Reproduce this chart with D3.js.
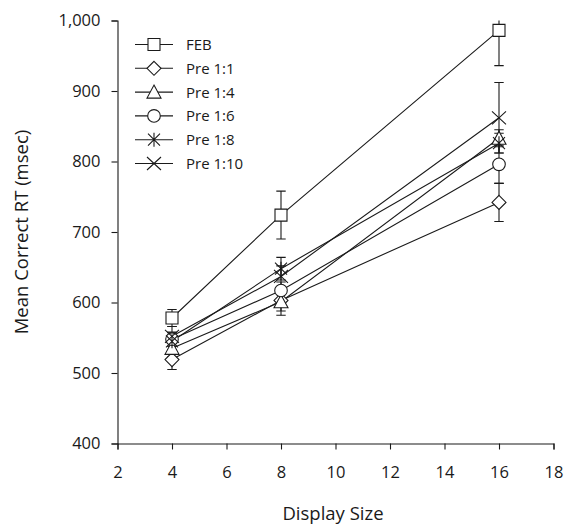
<!DOCTYPE html>
<html>
<head>
<meta charset="utf-8">
<script src="https://cdn.jsdelivr.net/npm/d3@7"></script>
<style>
  html, body { margin: 0; padding: 0; background: #fff; }
  svg { display: block; }
  text { font-family: "Open Sans", "Noto Sans", sans-serif; fill: #1a1a1a; }
</style>
</head>
<body>
<svg id="chart" width="572" height="524"></svg>
<script>
// Mean correct RT by display size, one series per condition
const displaySizes = [4, 8, 16];
const seriesNames = ["FEB", "Pre 1:1", "Pre 1:4", "Pre 1:6", "Pre 1:8", "Pre 1:10"];
const seriesShapes = ["square", "diamond", "triangle", "circle", "asterisk", "cross"];

const febRT    = [578, 724, 986];
const pre1_1RT = [519, 603, 742];
const pre1_4RT = [535, 601, 833];
const pre1_6RT = [548, 617, 796];
const pre1_8RT = [545, 648, 826];
const pre1_10RT = [552, 637, 862];

// standard errors (+/-)
const febErr    = [12, 34, 50];
const pre1_1Err = [14, 15, 27];
const pre1_4Err = [12, 19, 12];
const pre1_6Err = [10, 12, 27];
const pre1_8Err = [12, 16, 14];
const pre1_10Err = [14, 15, 50];

const xTicks = [2, 4, 6, 8, 10, 12, 14, 16, 18];
const yTicks = [400, 500, 600, 700, 800, 900, 1000];

const rtValues = [febRT, pre1_1RT, pre1_4RT, pre1_6RT, pre1_8RT, pre1_10RT];
const rtErrors = [febErr, pre1_1Err, pre1_4Err, pre1_6Err, pre1_8Err, pre1_10Err];

const series = seriesNames.map((name, i) => ({
  name,
  shape: seriesShapes[i],
  points: displaySizes.map((s, j) => ({ x: s, y: rtValues[i][j], e: rtErrors[i][j] }))
}));

const svg = d3.select("#chart");
const x = d3.scaleLinear().domain([2, 18]).range([117.5, 553.5]);
const y = d3.scaleLinear().domain([400, 1000]).range([443.5, 20.5]);

// marker outlines, centred on the origin
function shapePath(shape) {
  const p = d3.path();
  if (shape === "square") {
    p.rect(-6, -6, 12, 12);
  } else if (shape === "diamond") {
    p.moveTo(0, -7); p.lineTo(7, 0); p.lineTo(0, 7); p.lineTo(-7, 0); p.closePath();
  } else if (shape === "triangle") {
    p.moveTo(0, -7); p.lineTo(7, 6); p.lineTo(-7, 6); p.closePath();
  } else if (shape === "circle") {
    p.arc(0, 0, 6.3, 0, 2 * Math.PI);
  } else if (shape === "asterisk") {
    p.moveTo(-6, -6); p.lineTo(6, 6);
    p.moveTo(6, -6); p.lineTo(-6, 6);
    p.moveTo(0, -7); p.lineTo(0, 7);
  } else if (shape === "cross") {
    p.moveTo(-7, -6.5); p.lineTo(7, 6.5);
    p.moveTo(7, -6.5); p.lineTo(-7, 6.5);
  }
  return p.toString();
}

function drawMarker(g, shape) {
  g.append("path")
    .attr("d", shapePath(shape))
    .attr("fill", shape === "asterisk" || shape === "cross" ? "none" : "#fff")
    .attr("stroke", "#1a1a1a")
    .attr("stroke-width", 1.1);
}

// axes
const yAxis = d3.axisLeft(y).tickValues(yTicks).tickSize(6).tickPadding(11)
  .tickFormat(d3.format(","));
const xAxis = d3.axisBottom(x).tickValues(xTicks).tickSize(6).tickPadding(17)
  .tickFormat(d3.format("d"));

const gy = svg.append("g").attr("transform", `translate(${x(2)},0)`).call(yAxis);
const gx = svg.append("g").attr("transform", `translate(0,${y(400)})`).call(xAxis);
[gy, gx].forEach(g => {
  g.select(".domain").attr("stroke", "#1a1a1a").attr("stroke-width", 1.1);
  g.selectAll(".tick line").attr("stroke", "#1a1a1a").attr("stroke-width", 1.1);
  g.selectAll(".tick text").attr("font-size", 16.5).attr("fill", "#1a1a1a")
    .attr("font-family", "'Open Sans', sans-serif");
});

// axis titles
svg.append("text")
  .attr("x", 333).attr("y", 520)
  .attr("text-anchor", "middle").attr("font-size", 18.5)
  .text("Display Size");
svg.append("text")
  .attr("transform", `translate(28,${(y(400) + y(1000)) / 2}) rotate(-90)`)
  .attr("text-anchor", "middle").attr("font-size", 18.5)
  .text("Mean Correct RT (msec)");

const plot = svg.append("g");
plot.append("clipPath").attr("id", "plot-clip")
  .append("rect").attr("x", x(2)).attr("y", y(1000))
  .attr("width", x(18) - x(2)).attr("height", y(400) - y(1000));

const line = d3.line().x(d => x(d.x)).y(d => y(d.y));

// connecting lines
plot.selectAll(".series-line").data(series).join("path")
  .attr("class", "series-line")
  .attr("d", d => line(d.points))
  .attr("fill", "none").attr("stroke", "#1a1a1a").attr("stroke-width", 1.1);

// error bars with caps
const eb = plot.append("g").attr("clip-path", "url(#plot-clip)");
series.forEach(s => {
  s.points.forEach(p => {
    const cx = x(p.x), top = y(p.y + p.e), bot = y(p.y - p.e);
    eb.append("line").attr("x1", cx).attr("x2", cx).attr("y1", top).attr("y2", bot)
      .attr("stroke", "#1a1a1a").attr("stroke-width", 1.1);
    [top, bot].forEach(v => eb.append("line")
      .attr("x1", cx - 4.7).attr("x2", cx + 4.7).attr("y1", v).attr("y2", v)
      .attr("stroke", "#1a1a1a").attr("stroke-width", 1.1));
  });
});

// markers
series.forEach(s => {
  s.points.forEach(p => {
    const g = plot.append("g").attr("transform", `translate(${x(p.x)},${y(p.y)})`);
    drawMarker(g, s.shape);
  });
});

// legend
const legend = svg.append("g");
series.forEach((s, i) => {
  const ly = 44.5 + i * 23.8;
  legend.append("line").attr("x1", 135).attr("x2", 173).attr("y1", ly).attr("y2", ly)
    .attr("stroke", "#1a1a1a").attr("stroke-width", 1.1);
  const g = legend.append("g").attr("transform", `translate(154,${ly})`);
  drawMarker(g, s.shape);
  legend.append("text").attr("x", 186).attr("y", ly).attr("dy", "0.36em")
    .attr("font-size", 15).text(s.name);
});
</script>
</body>
</html>
